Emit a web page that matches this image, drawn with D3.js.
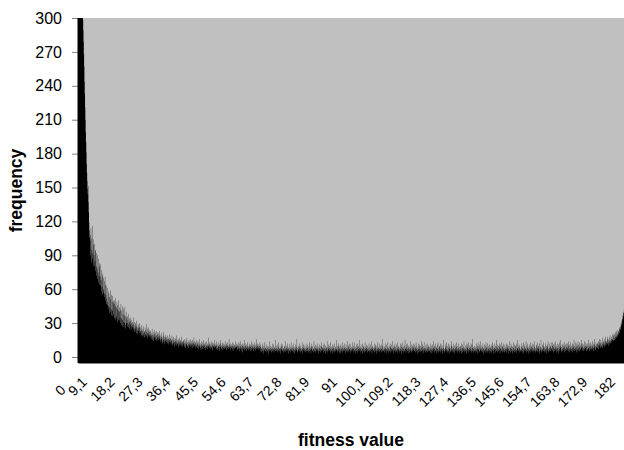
<!DOCTYPE html>
<html lang="en">
<head>
<meta charset="UTF-8">
<title>Fitness value histogram</title>
<script src="https://d3js.org/d3.v7.min.js"></script>
<style>
  body { margin: 0; overflow: hidden; background: #fff; }
  svg { display: block; }
  .tick text { font-family: Arial, "Liberation Sans", sans-serif; font-size: 16px; fill: #000; }
  .x-axis .tick text { font-size: 14px; }
  .tick line { stroke: #808080; }
  .axis-title { font-family: Arial, "Liberation Sans", sans-serif; font-size: 17.5px; font-weight: bold; }
</style>
</head>
<body>
<svg width="624" height="450"></svg>
<script>
// frequency of each 0.1-wide fitness bin
// bins 0 - 3.9 (the first ones run off the top of the chart)
const peakFreq = [
  1240, 780, 610, 520, 455, 415, 388, 366, 350, 338,
  329, 321, 315, 310, 306, 302, 298, 289, 279, 268,
  257, 244, 233, 221, 210, 199, 190, 181, 171, 163,
  156, 149, 144, 151, 137, 128, 119, 112, 106, 103
];
// bins 4.0 - 59.9
const decayFreq = [
  108, 90, 114, 95, 84, 105, 92, 116, 87, 99, 81, 104, 90, 80, 100, 85, 94,
  76, 95, 80, 72, 92, 78, 69, 90, 75, 66, 87, 72, 83, 64, 80, 71,
  63, 82, 68, 58, 77, 62, 72, 55, 74, 60, 57, 70, 53, 67, 56, 71, 50, 64, 55, 47, 63, 52,
  46, 61, 49, 42, 58, 45, 56, 39, 53, 44, 59, 40, 51, 42, 55, 37, 49, 41, 54, 36, 48, 50,
  38, 50, 35, 47, 33, 45, 52, 34, 44, 36, 49, 31, 42, 46, 33, 41, 50, 32, 40, 44, 35,
  42, 30, 47, 34, 28, 41, 33, 45, 27, 38, 31, 43, 26, 37, 30, 44, 28, 36, 25, 40, 30, 35,
  30, 36, 27, 33, 29, 38, 26, 31, 34, 25, 32, 29, 35, 24, 30, 27, 33, 26, 31, 28, 35, 25,
  29, 23, 31, 26, 22, 30, 25, 28, 21, 27, 32, 24, 26, 20, 29, 25, 23, 28, 21, 26, 30, 23,
  22, 26, 19, 24, 28, 20, 23, 18, 25, 21, 27, 19, 23, 22, 17, 26, 20, 24, 18, 22, 29, 19, 21, 25, 17, 23, 20, 26, 18, 22, 19, 24, 20,
  18, 23, 16, 21, 19, 25, 15, 20, 17, 22, 14, 19, 24, 17, 20, 15, 21, 18, 23, 16, 19, 14, 22, 17, 20, 15, 18, 21, 16, 19, 23, 17,
  15, 19, 13, 18, 16, 21, 14, 17, 12, 19, 15, 22, 13, 16, 18, 11, 17, 14, 20, 15, 13, 18, 16, 12, 19, 14, 17, 11, 16, 15, 20, 13, 16,
  13, 17, 11, 15, 14, 19, 12, 16, 10, 14, 18, 12, 15, 9, 13, 17, 11, 14, 16, 10, 13, 19, 12, 15, 11, 14, 9, 16, 13, 12, 17, 10, 14, 11, 15, 13, 18, 10, 12, 14, 9, 13, 15,
  11, 14, 9, 16, 12, 10, 13, 8, 15, 11, 12, 17, 9, 13, 10, 14, 11, 8, 15, 12, 10, 13, 16, 9, 11, 14, 10, 12, 8, 15, 11, 13, 9, 12, 17, 10, 11, 14, 8, 12, 13, 10, 15, 9, 11,
  12, 8, 14, 10, 7, 13, 11, 9, 16, 10, 8, 12, 6, 11, 14, 9, 10, 13, 7, 11, 9, 15, 10, 8, 12, 11, 6, 13, 9, 10,
  14, 8, 11, 10, 7, 12, 17, 9, 10, 8, 13, 11, 7, 10, 12, 9, 14, 8, 10, 11, 6, 13, 9, 12, 10, 8, 15, 11, 9, 10,
  9, 12, 7, 10, 14, 8, 11, 6, 10, 13, 9, 7, 11, 10, 5, 12, 9, 15, 8, 10, 7, 11, 9, 13, 6, 10, 8, 12, 9, 11, 7, 14, 10, 8, 9,
  12, 6, 11, 10, 8, 13, 9, 7, 10, 16, 8, 11, 9, 6, 12, 10, 8, 11, 9, 7, 13, 10, 5, 9, 12, 8, 10, 11, 7, 14, 9, 8, 10, 12, 9,
  8, 11, 6, 10, 13, 7, 9, 5, 12, 8, 10, 7, 14, 9, 6, 11, 8, 10, 4, 12, 9, 7, 11, 8, 15, 6, 9, 10, 7, 12, 8, 5, 11, 9, 7, 13, 10, 6, 9, 8,
  12, 7, 10, 5, 11, 9, 8, 14, 6, 10, 9, 7, 12, 8, 11, 5, 9, 13, 7, 10, 8, 6, 11, 9, 16, 7, 10, 8, 12, 6, 9, 11, 7, 10, 8, 13, 5, 9, 11, 8
];
// bins 60.0 - 164.9
const flatFreq = [
  7, 4, 9, 6, 12, 5, 8, 3, 10, 7, 6, 13, 5, 8, 9, 4, 7, 11, 6, 8, 5, 10, 7, 3, 9, 6, 14, 7, 5, 8, 10, 6, 4, 9, 7, 12, 5, 8, 6, 11, 7, 4, 9, 8, 6, 15, 5, 7, 10, 6,
  8, 5, 11, 7, 4, 9, 6, 13, 8, 5, 7, 10, 3, 8, 6, 12, 7, 9, 5, 6, 11, 4, 8, 7, 10, 5, 9, 6, 14, 7, 4, 8, 6, 10, 5, 7, 12, 9, 3, 7, 8, 6, 11, 5, 9, 7, 4, 13, 6, 8,
  6, 10, 5, 8, 4, 12, 7, 9, 6, 3, 8, 11, 5, 7, 9, 6, 16, 5, 8, 4, 10, 7, 6, 9, 5, 12, 8, 4, 7, 10, 6, 8, 5, 13, 7, 3, 9, 6, 11, 8, 5, 7, 10, 4, 8, 6, 12, 7, 5, 9,
  5, 8, 11, 6, 9, 4, 7, 13, 5, 10, 6, 8, 3, 9, 7, 12, 5, 6, 10, 8, 4, 7, 14, 6, 9, 5, 8, 11, 4, 7, 6, 10, 8, 5, 12, 7, 3, 9, 6, 8, 11, 5, 7, 4, 10, 6, 9, 13, 5, 8,
  9, 6, 4, 11, 7, 8, 5, 12, 6, 3, 10, 7, 9, 5, 8, 14, 6, 4, 9, 7, 11, 5, 8, 6, 10, 4, 7, 13, 5, 9, 6, 8, 3, 11, 7, 5, 10, 8, 6, 12, 4, 7, 9, 5, 8, 15, 6, 7, 4, 10,
  6, 9, 5, 12, 7, 4, 8, 10, 6, 3, 11, 7, 5, 9, 8, 13, 4, 6, 10, 7, 5, 12, 8, 6, 9, 3, 7, 11, 5, 8, 6, 14, 7, 4, 9, 10, 5, 7, 6, 12, 8, 4, 11, 6, 9, 5, 7, 13, 6, 8,
  7, 4, 10, 8, 5, 13, 6, 9, 3, 7, 11, 5, 8, 6, 12, 4, 9, 7, 10, 5, 6, 15, 8, 4, 7, 9, 11, 5, 6, 8, 3, 12, 7, 9, 5, 10, 6, 8, 4, 13, 7, 5, 9, 6, 11, 8, 4, 7, 10, 6,
  8, 5, 12, 6, 9, 4, 7, 11, 5, 8, 14, 6, 3, 9, 7, 10, 5, 8, 6, 12, 4, 7, 9, 5, 11, 8, 6, 3, 10, 7, 13, 5, 8, 6, 9, 4, 12, 7, 5, 10, 6, 8, 4, 11, 7, 9, 5, 16, 6, 7,
  5, 10, 7, 4, 9, 12, 6, 8, 3, 11, 7, 5, 9, 6, 13, 8, 4, 7, 10, 5, 6, 12, 9, 4, 8, 7, 11, 5, 6, 14, 7, 3, 9, 8, 5, 10, 6, 12, 4, 7, 9, 6, 11, 5, 8, 4, 13, 7, 6, 9,
  10, 6, 4, 8, 12, 5, 7, 9, 3, 11, 6, 8, 5, 13, 7, 4, 9, 10, 6, 5, 15, 7, 8, 4, 11, 6, 9, 5, 7, 12, 3, 8, 10, 6, 4, 9, 7, 14, 5, 8, 6, 11, 4, 7, 10, 5, 9, 12, 6, 8,
  6, 11, 5, 8, 4, 9, 13, 7, 5, 10, 3, 8, 6, 12, 7, 4, 9, 11, 5, 7, 6, 10, 4, 14, 8, 5, 9, 6, 12, 3, 7, 10, 5, 8, 6, 13, 4, 9, 7, 11, 5, 6, 8, 12, 4, 7, 10, 5, 9, 6,
  9, 5, 7, 12, 4, 8, 10, 6, 3, 11, 7, 5, 14, 8, 6, 9, 4, 10, 7, 5, 12, 6, 8, 3, 9, 11, 5, 7, 13, 6, 4, 8, 10, 5, 9, 7, 12, 4, 6, 8, 11, 5, 7, 3, 10, 6, 15, 8, 5, 7,
  4, 8, 11, 6, 9, 5, 13, 7, 4, 10, 6, 8, 12, 5, 3, 9, 7, 11, 6, 8, 4, 10, 5, 14, 7, 6, 9, 4, 12, 8, 5, 7, 10, 3, 6, 11, 8, 5, 9, 13, 6, 4, 7, 10, 5, 8, 12, 6, 9, 4,
  7, 10, 5, 9, 3, 12, 6, 8, 4, 11, 7, 5, 9, 14, 6, 8, 4, 10, 7, 5, 12, 6, 3, 9, 8, 11, 5, 7, 13, 4, 6, 10, 8, 5, 9, 7, 12, 4, 6, 11, 8, 5, 16, 7, 4, 9, 6, 10, 5, 8,
  6, 9, 4, 12, 7, 5, 10, 8, 3, 13, 6, 7, 9, 5, 11, 4, 8, 6, 14, 7, 5, 10, 6, 9, 4, 12, 7, 3, 8, 11, 5, 6, 10, 7, 4, 13, 8, 5, 9, 6, 12, 4, 7, 10, 5, 8, 11, 6, 3, 9,
  8, 5, 11, 7, 4, 10, 6, 13, 5, 9, 7, 3, 12, 8, 6, 10, 4, 7, 9, 15, 5, 6, 11, 8, 4, 7, 10, 5, 12, 6, 9, 3, 8, 11, 7, 5, 13, 6, 4, 9, 10, 7, 5, 12, 8, 6, 4, 11, 7, 9,
  5, 12, 7, 4, 9, 6, 11, 8, 3, 10, 7, 5, 14, 6, 9, 4, 8, 12, 5, 7, 10, 6, 3, 9, 13, 5, 8, 6, 11, 4, 7, 10, 5, 9, 12, 6, 4, 8, 7, 15, 5, 9, 6, 11, 4, 8, 10, 6, 7, 5,
  9, 6, 12, 4, 8, 10, 5, 7, 13, 3, 9, 6, 11, 5, 8, 7, 14, 4, 6, 10, 8, 5, 12, 7, 3, 9, 6, 11, 5, 8, 13, 4, 7, 10, 6, 9, 5, 12, 8, 4, 11, 6, 7, 9, 5, 14, 6, 8, 4, 10,
  6, 11, 5, 8, 13, 4, 9, 7, 10, 5, 3, 12, 7, 6, 9, 15, 5, 8, 4, 11, 7, 6, 10, 5, 13, 8, 4, 9, 6, 12, 7, 5, 10, 3, 8, 11, 6, 9, 14, 5, 7, 4, 12, 8, 6, 10, 5, 9, 13, 7,
  8, 5, 10, 13, 6, 9, 4, 11, 7, 12, 5, 8, 6, 14, 9, 4, 10, 7, 5, 12, 8, 6, 11, 3, 9, 13, 7, 5, 10, 8, 15, 6, 4, 9, 11, 7, 5, 12, 8, 6, 10, 4, 13, 9, 7, 5, 11, 8, 6, 12,
  9, 6, 12, 8, 5, 10, 14, 7, 4, 11, 8, 6, 13, 9, 5, 10, 7, 12, 4, 8, 11, 6, 9, 15, 7, 5, 10, 8, 13, 6, 9, 4, 12, 7, 10, 5, 14, 8, 6, 11, 9, 5, 13, 7, 10, 6, 12, 8, 15, 9
];
// bins 165.0 - 182.9 (the picture is cut at the right edge, around 178.7)
const riseFreq = [
  9, 6, 12, 8, 5, 11, 7, 14, 9, 6, 10, 8, 13, 5, 9, 11, 7, 12, 6, 10, 8, 15, 7, 9, 5, 12, 10, 7, 13, 8, 6, 11, 9, 14, 7, 10, 5, 12, 8, 11, 9, 16, 7, 10, 6, 13, 9, 11, 8, 12,
  12, 8, 14, 10, 7, 13, 11, 16, 9, 12, 8, 15, 10, 13, 9, 11, 17, 8, 12, 14, 10, 13, 9, 16, 11, 14, 10, 18, 12, 13,
  14, 11, 16, 12, 18, 13, 10, 15, 17, 12, 14, 19, 13, 15, 12, 18, 14, 16, 20, 15,
  16, 14, 19, 15, 21, 17, 15, 20, 18, 16, 22, 17, 19, 23, 18,
  21, 19, 24, 20, 23, 22, 26, 21, 25, 24,
  27, 25, 30, 28, 32, 29, 34, 33, 37, 36, 40, 39, 43,
  45, 48, 47, 52, 55, 53, 58, 62, 60, 66, 70, 68, 75, 80, 78, 86, 92, 90, 98, 105,
  102, 112, 120, 118, 128, 137, 135, 146, 155, 152, 164, 175, 172, 186, 198, 195, 210, 224, 220, 238, 255, 250
];

const freq = peakFreq.concat(decayFreq, flatFreq, riseFreq);
const binSize = 0.1;

const xTickValues = [0, 9.1, 18.2, 27.3, 36.4, 45.5, 54.6, 63.7, 72.8, 81.9, 91,
                     100.1, 109.2, 118.3, 127.4, 136.5, 145.6, 154.7, 163.8, 172.9, 182];
const xTickLabels = ["0", "9,1", "18,2", "27,3", "36,4", "45,5", "54,6", "63,7", "72,8", "81,9", "91",
                     "100,1", "109,2", "118,3", "127,4", "136,5", "145,6", "154,7", "163,8", "172,9", "182"];
const yTicks = [0, 30, 60, 90, 120, 150, 180, 210, 240, 270, 300];

const svg = d3.select("svg");
const W = +svg.attr("width");
const plotLeft = 78, plotTop = 18, zeroY = 357, plotBottom = 363, binPx = 0.3055;
const plotRight = plotLeft + freq.length * binPx;   // runs past the right edge, as in the original

const x = d3.scaleBand()
  .domain(d3.range(freq.length))
  .range([plotLeft, plotRight]);

const y = d3.scaleLinear()
  .domain([0, 300])
  .range([zeroY, plotTop]);

svg.append("defs").append("clipPath").attr("id", "plot")
  .append("rect")
    .attr("x", plotLeft).attr("y", plotTop)
    .attr("width", plotRight - plotLeft).attr("height", plotBottom - plotTop);

// plot background
svg.append("rect")
  .attr("x", plotLeft).attr("y", plotTop)
  .attr("width", plotRight - plotLeft).attr("height", plotBottom - plotTop)
  .attr("fill", "#c0c0c0");

// bars: one stepped path so the thin bars blend cleanly
const pts = freq.map((v, i) => [x(i), v]);
pts.push([x(freq.length - 1) + x.bandwidth(), freq[freq.length - 1]]);

const bars = d3.area()
  .x(d => d[0])
  .y0(plotBottom)
  .y1(d => y(d[1]))
  .curve(d3.curveStepAfter);

svg.append("path")
  .attr("clip-path", "url(#plot)")
  .attr("d", bars(pts))
  .attr("fill", "#000");

// x axis
const xAxis = svg.append("g")
  .attr("class", "x-axis")
  .attr("transform", `translate(0,${plotBottom})`)
  .call(d3.axisBottom(x)
    .tickValues(xTickValues.map(v => Math.round(v / binSize)))
    .tickFormat((d, i) => xTickLabels[i])
    .tickSize(0));
xAxis.select(".domain").attr("stroke", "#808080");
xAxis.selectAll("text")
  .attr("y", 0).attr("dy", 0)
  .attr("text-anchor", "end")
  .attr("transform", (d, i) => i === 0 ? "translate(-12,28) rotate(-45)" : "translate(-18.5,20) rotate(-45)");

// y axis
const yAxis = svg.append("g")
  .attr("transform", `translate(${plotLeft},0)`)
  .call(d3.axisLeft(y).tickValues(yTicks).tickSize(6).tickPadding(10));
yAxis.select(".domain").remove();
svg.append("line")
  .attr("x1", plotLeft).attr("x2", plotLeft)
  .attr("y1", plotTop).attr("y2", plotBottom)
  .attr("stroke", "#000");

// axis titles
svg.append("text")
  .attr("class", "axis-title")
  .attr("x", (plotLeft + W) / 2)
  .attr("y", 446)
  .attr("text-anchor", "middle")
  .text("fitness value");

svg.append("text")
  .attr("class", "axis-title")
  .attr("transform", `translate(22,${(plotTop + plotBottom) / 2}) rotate(-90)`)
  .attr("text-anchor", "middle")
  .text("frequency");
</script>
</body>
</html>
